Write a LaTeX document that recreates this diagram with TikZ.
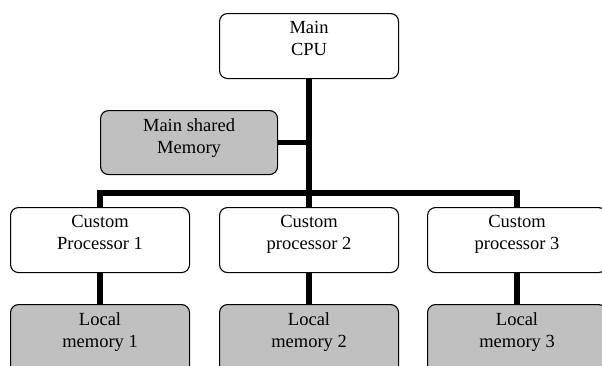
\documentclass[tikz,border=0pt]{standalone}
\usepackage{fontspec}
\setmainfont{Liberation Serif}
\tikzset{
  box/.style={draw=black, line width=1.1pt, rounded corners=8pt, rectangle,
    minimum width=179pt, minimum height=65pt, anchor=north west, inner sep=0pt},
  whitebox/.style={box, fill=white},
  graybox/.style={box, fill=boxgray},
  txt/.style={align=center, inner sep=0pt, anchor=north, yshift=-8.4pt,
    font=\fontsize{18.5}{21.7}\selectfont},
  bus/.style={line width=5.5pt, line join=miter, line cap=butt},
}
\definecolor{boxgray}{RGB}{192,192,192}
\begin{document}
\begin{tikzpicture}[x=1pt,y=-1pt]
\useasboundingbox (0,0) rectangle (602,365);
% connectors first (behind boxes)
\coordinate (busL) at (99.5,193);
\coordinate (busR) at (516.5,193);
% boxes
\node[whitebox] (cpu) at (219,13) {};
\node[graybox, minimum width=177pt, minimum height=64pt] (shm) at (100,110) {};
\node[whitebox] (p1) at (10,207) {};
\node[whitebox] (p2) at (219,207) {};
\node[whitebox] (p3) at (427,207) {};
\node[graybox, minimum height=80pt] (l1) at (10,304) {};
\node[graybox, minimum height=80pt] (l2) at (219,304) {};
\node[graybox, minimum height=80pt] (l3) at (427,304) {};
% texts
\node[txt] (cput) at (cpu.north) {Main\\CPU};
\node[txt] (shmt) at (shm.north) {Main shared\\Memory};
\node[txt] (p1t) at (p1.north) {Custom\\Processor 1};
\node[txt] (p2t) at (p2.north) {Custom\\processor 2};
\node[txt] (p3t) at (p3.north) {Custom\\processor 3};
\node[txt] (l1t) at (l1.north) {Local\\memory 1};
\node[txt] (l2t) at (l2.north) {Local\\memory 2};
\node[txt] (l3t) at (l3.north) {Local\\memory 3};
% connectors
\draw[bus] (cpu.south) -- (p2.north);
\draw[bus] (p1.north) -- (p1.north |- busL) -- (p3.north |- busR) -- (p3.north);
\draw[bus] (shm.east) -- (shm.east -| cpu.south);
\draw[bus] (p1.south) -- (l1.north);
\draw[bus] (p2.south) -- (l2.north);
\draw[bus] (p3.south) -- (l3.north);
\end{tikzpicture}
\end{document}
